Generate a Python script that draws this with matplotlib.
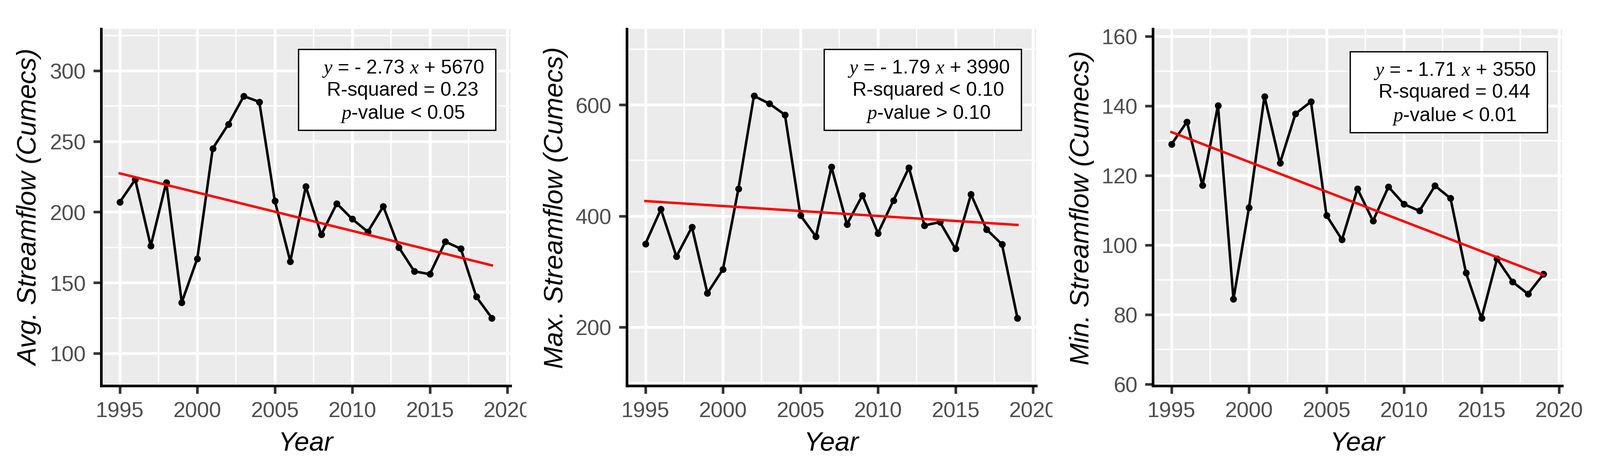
import numpy as np
import matplotlib
matplotlib.use("Agg")
import matplotlib.pyplot as plt
from matplotlib.patches import Rectangle
from matplotlib.transforms import Bbox, TransformedBbox

plt.rcParams['font.family'] = ['Liberation Sans', 'DejaVu Sans']
plt.rcParams['mathtext.fontset'] = 'custom'
plt.rcParams['mathtext.it'] = 'Liberation Serif:italic'
plt.rcParams['mathtext.rm'] = 'Liberation Sans'

# ---------------- data ----------------
years = list(range(1995, 2020))
avg_flow = [207, 223, 176, 221, 136, 167, 245, 262, 282, 278,
            208, 165, 218, 184, 206, 195, 186, 204, 175, 158,
            156, 179, 174, 140, 125]
max_flow = [350, 412, 327, 380, 261, 304, 449, 616, 602, 582,
            401, 363, 488, 385, 437, 369, 428, 487, 383, 389,
            341, 439, 376, 349, 216]
min_flow = [128.9, 135.4, 117.1, 140.1, 84.4, 110.7, 142.7, 123.5, 137.7, 141.2,
            108.5, 101.5, 116.1, 106.9, 116.7, 111.7, 109.8, 117.0, 113.4, 92.0,
            78.9, 96.0, 89.4, 85.9, 91.6]

y_labels = ["Avg. Streamflow (Cumecs)", "Max. Streamflow (Cumecs)", "Min. Streamflow (Cumecs)"]
x_label = "Year"
x_ticks = [1995, 2000, 2005, 2010, 2015, 2020]
y_ticks = [[100, 150, 200, 250, 300], [200, 400, 600], [60, 80, 100, 120, 140, 160]]
y_minor = [[125, 175, 225, 275, 325], [100, 300, 500, 700], [70, 90, 110, 130, 150]]
y_limits = [(77, 329.6), (94.5, 736.5), (59.5, 162.1)]
eq_texts = [
    ["$y$ = - 2.73 $x$ + 5670", "R-squared = 0.23", "$p$-value < 0.05"],
    ["$y$ = - 1.79 $x$ + 3990", "R-squared < 0.10", "$p$-value > 0.10"],
    ["$y$ = - 1.71 $x$ + 3550", "R-squared = 0.44", "$p$-value < 0.01"],
]
series = [avg_flow, max_flow, min_flow]

# ---------------- layout ----------------
W, H = 4097, 1206
fig = plt.figure(figsize=(W / 300, H / 300), dpi=300)
ax_left_px = [259, 1605, 2952]
ax_w_px = 1048
ax_top_px, ax_bot_px = 75, 988
clip_ranges = [(0, 1348), (1348, 2695), (2695, W)]
box_dy = [0.0, 0.0, -0.006]

tick_col = '#333333'
lab_col = '#4D4D4D'

for i in range(3):
    ax = fig.add_axes([ax_left_px[i] / W, (H - ax_bot_px) / H,
                       ax_w_px / W, (ax_bot_px - ax_top_px) / H])
    ax.set_facecolor('#EBEBEB')
    for s in ['top', 'right']:
        ax.spines[s].set_visible(False)
    for s in ['left', 'bottom']:
        ax.spines[s].set_color('black')
        ax.spines[s].set_linewidth(1.6)

    ax.set_xlim(1993.8, 2020.2)
    ax.set_ylim(*y_limits[i])
    ax.set_xticks(x_ticks)
    ax.set_xticks([1997.5, 2002.5, 2007.5, 2012.5, 2017.5], minor=True)
    ax.set_yticks(y_ticks[i])
    ax.set_yticks(y_minor[i], minor=True)
    ax.grid(which='major', color='white', linewidth=1.75)
    ax.grid(which='minor', color='white', linewidth=0.87)
    ax.set_axisbelow(True)
    ax.tick_params(which='major', direction='out', length=4.8, width=1.6,
                   color=tick_col, labelcolor=lab_col, labelsize=13.3, pad=4.6)
    ax.tick_params(which='minor', length=0)

    y = series[i]
    ax.plot(years, y, color='black', linewidth=1.55, marker='o',
            markersize=3.2, zorder=3)
    coef = np.polyfit(years, y, 1)
    fit = np.polyval(coef, years)
    ax.plot(years, fit, color='red', linewidth=1.5, zorder=4)

    ax.set_xlabel(x_label, fontsize=16.4, fontstyle='italic', color='black',
                  va='baseline')
    ax.xaxis.set_label_coords(0.5, -0.1807)
    ax.set_ylabel(y_labels[i], fontsize=16.4, fontstyle='italic', color='black',
                  va='baseline')
    ax.yaxis.set_label_coords(-0.1565, 0.5)

    # equation box
    dy = box_dy[i]
    ax.add_patch(Rectangle((0.482, 0.716 + dy), 0.482, 0.227,
                           transform=ax.transAxes, facecolor='white',
                           edgecolor='black', linewidth=0.8, zorder=5))
    for k, yy in enumerate([0.876, 0.814, 0.749]):
        ax.text(0.737, yy + dy, eq_texts[i][k], transform=ax.transAxes,
                ha='center', va='baseline', fontsize=12, color='black', zorder=6)

    # clip tick labels to each sub-plot's region
    x0, x1 = clip_ranges[i]
    bb = TransformedBbox(Bbox([[x0 / W, 0], [x1 / W, 1]]), fig.transFigure)
    for t in ax.xaxis.get_major_ticks():
        t.label1.set_clip_box(bb)
        t.label1.set_clip_on(True)

fig.savefig('out.png', dpi=300)
